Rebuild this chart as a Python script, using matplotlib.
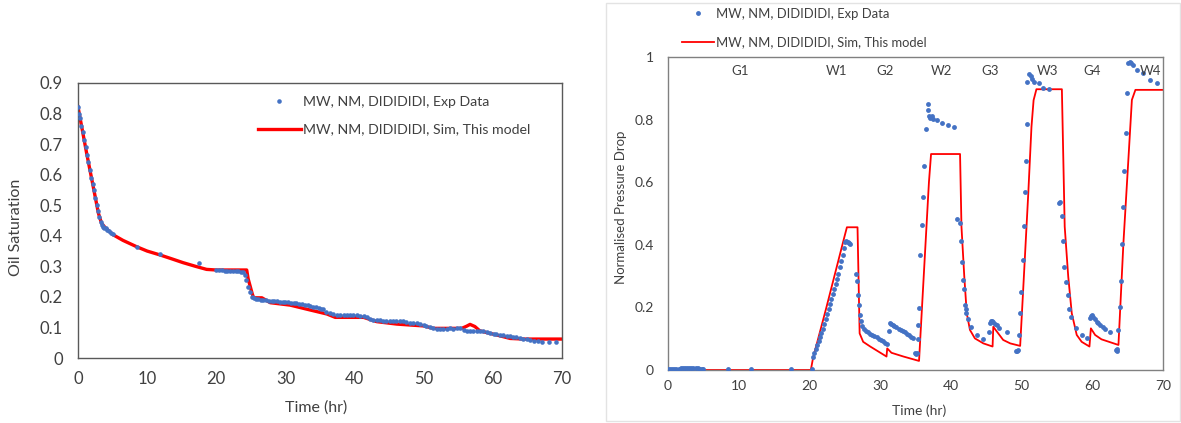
import matplotlib
matplotlib.use("Agg")
import matplotlib.pyplot as plt
from matplotlib.patches import Rectangle
from matplotlib.ticker import FuncFormatter

plt.rcParams['font.family'] = ['Lato', 'DejaVu Sans']

# ---------------- Left chart: oil saturation ----------------
left_exp_t = [0, 0.15, 0.3, 0.5, 0.7, 0.9, 1.1, 1.3, 1.5, 1.7, 1.9, 2.1, 2.3, 2.5, 2.7, 2.9,
              3.1, 3.3, 3.45, 3.6, 3.8, 4.0, 4.2, 4.5, 4.8, 5.1, 8.6, 11.8, 17.5,
              20.0, 20.4, 20.8, 21.2, 21.6, 22.0, 22.4, 22.8, 23.2, 23.6, 23.9, 24.15, 24.35,
              24.6, 24.85, 25.1, 25.4, 25.7, 26.0, 26.4, 26.8, 27.2, 27.6, 28.0, 28.4, 28.8,
              29.2, 29.6, 30.0, 30.4, 30.8, 31.2, 31.6, 32.0, 32.4, 32.8, 33.2, 33.6, 34.0,
              34.4, 34.8, 35.2, 35.5, 35.9, 36.4, 36.9, 37.4, 37.9, 38.4, 38.9, 39.4, 39.8,
              40.3, 40.8, 41.3, 41.8, 42.3, 42.7, 43.2, 43.7, 44.1, 44.6, 45.1, 45.6, 46.0,
              46.5, 47.0, 47.5, 48.0, 48.5, 49.0, 49.5, 50.0, 50.4, 50.9, 51.4, 51.9, 52.3,
              52.8, 53.3, 53.8, 54.3, 54.8, 55.3, 55.8, 56.2, 56.7, 57.2, 57.7, 58.1, 58.6,
              59.1, 59.6, 60.1, 60.5, 61.0, 61.5, 62.0, 62.5, 62.9, 63.4, 63.9, 64.4, 64.9,
              65.4, 65.9, 66.5, 67.1, 68.1, 69.2]
left_exp_s = [0.82, 0.80, 0.785, 0.76, 0.74, 0.715, 0.69, 0.665, 0.64, 0.615, 0.59, 0.57, 0.55,
              0.525, 0.50, 0.48, 0.46, 0.445, 0.435, 0.43, 0.425, 0.425, 0.42, 0.415, 0.41, 0.405,
              0.364, 0.339, 0.31,
              0.288, 0.287, 0.287, 0.286, 0.286, 0.286, 0.285, 0.285, 0.284, 0.283, 0.28, 0.272,
              0.255, 0.233, 0.215, 0.2, 0.195, 0.192, 0.193, 0.191, 0.19, 0.189, 0.188, 0.187,
              0.186, 0.185, 0.184, 0.184, 0.183, 0.182, 0.181, 0.18, 0.179, 0.178, 0.176, 0.174,
              0.172, 0.17, 0.168, 0.166, 0.164, 0.162, 0.159, 0.152, 0.146, 0.143, 0.141, 0.14,
              0.141, 0.14, 0.141, 0.14, 0.14, 0.139, 0.138, 0.133, 0.128, 0.124, 0.123, 0.123,
              0.122, 0.122, 0.122, 0.121, 0.122, 0.121, 0.12, 0.118, 0.116, 0.114, 0.113, 0.112,
              0.108, 0.105, 0.1, 0.097, 0.096, 0.095, 0.096, 0.096, 0.097, 0.096, 0.097, 0.097,
              0.092, 0.089, 0.088, 0.087, 0.087, 0.087, 0.087, 0.085, 0.082, 0.079, 0.077, 0.075,
              0.074, 0.073, 0.072, 0.07, 0.068, 0.065, 0.063, 0.061, 0.058, 0.056, 0.055, 0.054,
              0.054, 0.054]

left_sim_t = [0, 1.25, 2.2, 2.95, 3.4, 4.0, 5.1, 6.5, 8.5, 10, 11.9, 13.5, 15.2, 17, 18.6, 20,
              24.4, 24.6, 25.2, 25.4, 26.6, 27.8, 30.7, 33.6, 36.0, 37.2, 41.3, 43.2, 46.1,
              48.0, 50.0, 51.4, 55.5, 56.2, 56.7, 57.4, 58.1, 60.6, 62.5, 64.4, 70]
left_sim_s = [0.822, 0.67, 0.561, 0.474, 0.441, 0.425, 0.403, 0.385, 0.364, 0.35, 0.337, 0.325,
              0.312, 0.30, 0.29, 0.288, 0.288, 0.26, 0.21, 0.197, 0.197, 0.181, 0.173, 0.157,
              0.144, 0.133, 0.133, 0.119, 0.111, 0.108, 0.105, 0.097, 0.097, 0.104, 0.11, 0.103,
              0.089, 0.075, 0.064, 0.062, 0.062]

# ---------------- Right chart: normalised pressure drop ----------------
right_exp_t = [0, 0.3, 0.6, 0.9, 1.2, 1.5, 1.8, 2.1, 2.4, 2.7, 3.0, 3.3, 3.6, 3.9, 4.2, 4.5, 4.8,
               5.0, 8.5, 11.7, 17.4, 20.3,
               20.5, 20.7, 20.9, 21.1, 21.3, 21.5, 21.7, 21.9, 22.1, 22.3, 22.5, 22.7, 22.9, 23.1,
               23.3, 23.5, 23.7, 23.9, 24.1, 24.3, 24.5, 24.7, 24.85, 25.0, 25.2, 25.4, 25.6, 25.8,
               26.6, 26.7, 26.85, 26.95, 27.1, 27.25, 27.45, 27.7, 28.0, 28.3, 28.6, 28.9, 29.2,
               29.5, 29.8, 30.1, 30.4, 30.7, 30.95,
               31.2, 31.4, 31.6, 31.8, 32.0, 32.3, 32.6, 32.9, 33.2, 33.5, 33.8, 34.1, 34.4, 34.7,
               34.9, 35.05, 35.15,
               35.3, 35.4, 35.5, 35.65, 35.85, 36.05, 36.25, 36.5, 36.7, 36.8, 36.95, 37.1, 37.3,
               37.5, 38.0, 38.8, 39.6, 40.4,
               40.8, 41.25, 41.5, 41.55, 41.65, 41.8, 42.0, 42.1, 42.2, 42.45, 42.9, 43.7, 44.6,
               45.4, 45.55, 45.7, 45.85, 46.0, 46.2, 46.5, 46.8, 47.9, 49.2, 49.35,
               49.55, 49.7, 49.8, 49.9, 50.15, 50.3, 50.45, 50.6, 50.75, 50.8, 51.1, 51.3, 51.5,
               51.7, 52.4, 53.1, 53.9,
               55.3, 55.4, 55.7, 55.9, 56.05, 56.25, 56.5, 56.75, 57.0, 57.7, 58.5, 59.2,
               59.7, 59.8, 59.9, 60.1, 60.35, 60.6, 60.85, 61.1, 61.45, 61.8, 62.5, 63.3, 63.45,
               63.55,
               63.6, 63.9, 64.05, 64.25, 64.4, 64.55, 64.75, 64.9, 65.1, 65.3, 65.5, 65.7, 66.3,
               67.2, 68.2, 69.1]
right_exp_p = [0.004, 0.004, 0.004, 0.004, 0.004, 0.004, 0.005, 0.005, 0.006, 0.007, 0.007, 0.007,
               0.006, 0.005, 0.005, 0.004, 0.004, 0.004, 0.004, 0.004, 0.003, 0.004,
               0.043, 0.055, 0.068, 0.08, 0.092, 0.105, 0.117, 0.132, 0.147, 0.162, 0.178, 0.194,
               0.21, 0.226, 0.243, 0.26, 0.276, 0.29, 0.308, 0.328, 0.348, 0.368, 0.39, 0.41,
               0.413, 0.41, 0.406, 0.402,
               0.306, 0.285, 0.24, 0.208, 0.176, 0.158, 0.14, 0.13, 0.125, 0.12, 0.115, 0.112,
               0.108, 0.104, 0.1, 0.097, 0.092, 0.087, 0.082,
               0.126, 0.149, 0.148, 0.144, 0.14, 0.136, 0.132, 0.128, 0.124, 0.12, 0.116, 0.112,
               0.107, 0.102, 0.053, 0.05, 0.055,
               0.1, 0.144, 0.197, 0.367, 0.463, 0.554, 0.652, 0.769, 0.85, 0.831, 0.812, 0.804,
               0.81, 0.802, 0.799, 0.79, 0.783, 0.777,
               0.481, 0.469, 0.413, 0.346, 0.288, 0.258, 0.208, 0.194, 0.181, 0.162, 0.138, 0.112,
               0.098,
               0.12, 0.15, 0.155, 0.157, 0.152, 0.148, 0.143, 0.133, 0.122, 0.06, 0.062,
               0.064, 0.112, 0.181, 0.25, 0.351, 0.461, 0.57, 0.669, 0.785, 0.921, 0.947, 0.94,
               0.93, 0.921, 0.916, 0.9, 0.897,
               0.532, 0.537, 0.492, 0.412, 0.33, 0.282, 0.24, 0.194, 0.17, 0.133, 0.112, 0.101,
               0.165, 0.172, 0.176, 0.17, 0.162, 0.154, 0.149, 0.144, 0.137, 0.13, 0.122, 0.064,
               0.06, 0.066,
               0.128, 0.202, 0.284, 0.401, 0.522, 0.637, 0.758, 0.886, 0.982, 0.985, 0.98, 0.975,
               0.958, 0.948, 0.927, 0.916]

right_sim_t = [0, 20.2, 20.5, 22.4, 25.0, 25.3, 26.8, 27.1, 27.6, 28.6, 30.9, 31.0, 31.6, 33.3,
               35.5, 36.9, 37.2, 41.3, 41.5, 41.9, 42.25, 42.7, 43.4, 44.6, 45.9, 46.0, 46.7,
               47.4, 48.4, 49.8, 50.2, 50.95, 51.4, 51.7, 52.1, 55.7, 56.1, 56.6, 57.1, 57.8,
               58.5, 59.6, 59.8, 60.4, 61.3, 63.7, 64.4, 65.1, 65.6, 66.1, 70]
right_sim_p = [0, 0, 0.037, 0.2, 0.43, 0.456, 0.456, 0.117, 0.09, 0.075, 0.043, 0.069, 0.055,
               0.043, 0.029, 0.6, 0.69, 0.69, 0.458, 0.298, 0.181, 0.128, 0.101, 0.085, 0.075,
               0.138, 0.117, 0.096, 0.085, 0.077, 0.245, 0.565, 0.777, 0.862, 0.897, 0.897,
               0.458, 0.298, 0.181, 0.112, 0.09, 0.075, 0.133, 0.112, 0.098, 0.08, 0.405, 0.671,
               0.863, 0.895, 0.895]

phase_labels = ["G1", "W1", "G2", "W2", "G3", "W3", "G4", "W4"]
phase_x = [10.2, 23.9, 30.7, 38.7, 45.5, 53.7, 60.0, 68.2]

exp_label = "MW, NM, DIDIDIDI, Exp Data"
sim_label = "MW, NM, DIDIDIDI, Sim, This model"

BLUE = "#4472C4"
RED = "#FF0000"
TXT = "#404040"

W, H = 1181, 423
fig = plt.figure(figsize=(W / 100, H / 100), dpi=100)
fig.patch.set_facecolor("white")

fmt = FuncFormatter(lambda v, p: f"{v:g}")

# Left axes
axL = fig.add_axes([78 / W, (H - 358) / H, 484 / W, 275 / H])
axL.plot(left_exp_t, left_exp_s, linestyle="none", marker="o", markersize=3.3,
         color=BLUE, markeredgewidth=0, label=exp_label, zorder=3)
axL.plot(left_sim_t, left_sim_s, color=RED, linewidth=2.4, label=sim_label, zorder=2)
axL.set_xlim(0, 70)
axL.set_ylim(0, 0.9)
axL.set_xticks(range(0, 71, 10))
axL.set_yticks([i / 10 for i in range(10)])
axL.yaxis.set_major_formatter(fmt)
axL.tick_params(length=0, labelsize=12, colors=TXT)
axL.tick_params(axis="y", pad=11)
axL.tick_params(axis="x", pad=9)
for s in axL.spines.values():
    s.set_color("#595959")
    s.set_linewidth(1.0)
axL.set_xlabel("Time (hr)", fontsize=11.5, color=TXT)
axL.set_ylabel("Oil Saturation", fontsize=11.5, color=TXT)
axL.xaxis.set_label_coords(0.493, -0.155)
axL.yaxis.set_label_coords(-0.113, 0.476)
legL = axL.legend(loc="upper left", bbox_to_anchor=(258 / W, 1 - 96 / H),
                  bbox_transform=fig.transFigure, frameon=False, fontsize=10.2,
                  handlelength=3.0, handletextpad=0.2, labelspacing=1.1,
                  borderpad=0, borderaxespad=0, markerscale=1.0)
for t in legL.get_texts():
    t.set_color(TXT)

# Right chart area border
fig.patches.append(Rectangle((606 / W, 2 / H), (W - 607) / W, 418 / H,
                             transform=fig.transFigure, fill=False,
                             edgecolor="#E3E3E3", linewidth=1.0))

# Right axes
axR = fig.add_axes([668 / W, (H - 370) / H, 495 / W, 313 / H])
axR.plot(right_exp_t, right_exp_p, linestyle="none", marker="o", markersize=3.5,
         color=BLUE, markeredgewidth=0, label=exp_label, zorder=3)
axR.plot(right_sim_t, right_sim_p, color=RED, linewidth=1.3, label=sim_label, zorder=2)
axR.set_xlim(0, 70)
axR.set_ylim(0, 1)
axR.set_xticks(range(0, 71, 10))
axR.set_yticks([0, 0.2, 0.4, 0.6, 0.8, 1.0])
axR.yaxis.set_major_formatter(fmt)
axR.tick_params(length=0, labelsize=10, colors=TXT)
axR.tick_params(axis="y", pad=10)
axR.tick_params(axis="x", pad=7)
for s in axR.spines.values():
    s.set_color("#808080")
    s.set_linewidth(1.0)
axR.set_xlabel("Time (hr)", fontsize=10, color=TXT)
axR.set_ylabel("Normalised Pressure Drop", fontsize=9.5, color=TXT)
axR.xaxis.set_label_coords(0.508, -0.11)
axR.yaxis.set_label_coords(-0.083, 0.519)
for lab, x in zip(phase_labels, phase_x):
    axR.text(x, 0.955, lab, ha="center", va="center", fontsize=9.5, color=TXT)
legR = axR.legend(loc="upper left", bbox_to_anchor=(682 / W, 1 - 8 / H),
                  bbox_transform=fig.transFigure, frameon=False, fontsize=9.4,
                  handlelength=2.45, handletextpad=0.15, labelspacing=1.25,
                  borderpad=0, borderaxespad=0)
for t in legR.get_texts():
    t.set_color(TXT)

fig.savefig("out.png", dpi=100, facecolor="white")
